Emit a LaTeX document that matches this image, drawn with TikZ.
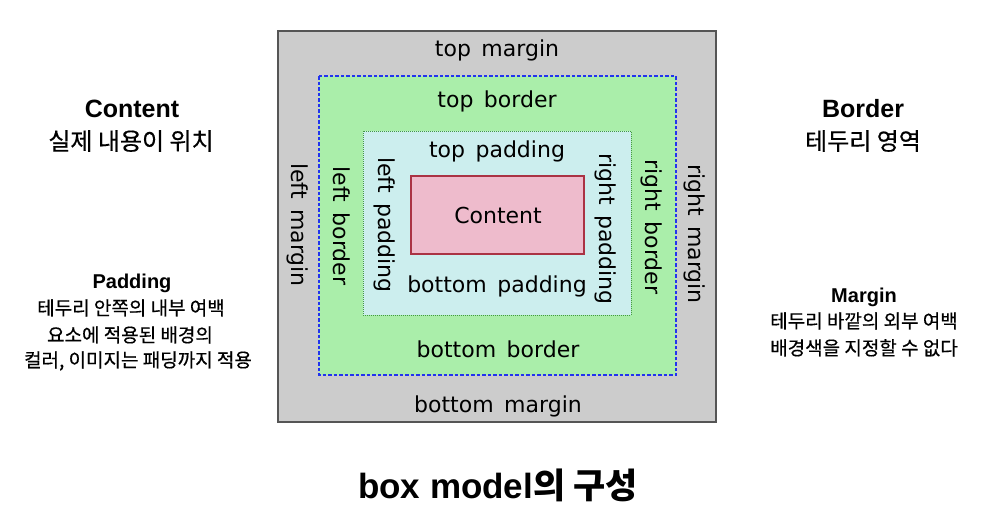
\documentclass[tikz,border=0pt]{standalone}
\usepackage{fontspec}
\setmainfont{Liberation Sans}
\newfontfamily\dejavu{DejaVu Sans}[WordSpace=1.5]
\newfontfamily\kr{Noto Sans CJK KR}
\newfontfamily\krm{Noto Sans CJK KR}[FakeBold=0.5]
\definecolor{margingray}{HTML}{CCCCCC}
\definecolor{marginline}{HTML}{555555}
\definecolor{bordergreen}{HTML}{AAEEAA}
\definecolor{borderblue}{HTML}{2233EE}
\definecolor{padcyan}{HTML}{CCEEEE}
\definecolor{padline}{HTML}{449944}
\definecolor{contpink}{HTML}{EEBBCC}
\definecolor{contline}{HTML}{AA3344}
\tikzset{
  boxlab/.style={font=\dejavu\fontsize{22}{22}\selectfont, inner sep=0pt, anchor=base},
  sidelab/.style={font=\dejavu\fontsize{22}{22}\selectfont, inner sep=0pt, anchor=center, rotate=-90},
  headlat/.style={font=\bfseries\fontsize{25}{25}\selectfont, inner sep=0pt, anchor=base},
  headkr/.style={font=\krm\fontsize{24}{24}\selectfont, inner sep=0pt, anchor=base},
  sublat/.style={font=\bfseries\fontsize{20}{20}\selectfont, inner sep=0pt, anchor=base},
  subkr/.style={font=\krm\fontsize{19}{19}\selectfont, inner sep=0pt, anchor=base},
}
\begin{document}
\begin{tikzpicture}[x=1pt,y=-1pt]
\useasboundingbox (0,0) rectangle (993,527);
% boxes
\path[draw=marginline, fill=margingray, line width=1.5pt] (278,31) rectangle (716,422);
\path[draw=borderblue, fill=bordergreen, line width=1.3pt, dash pattern=on 3.5pt off 2pt] (319,76) rectangle (676,375);
\path[draw=padline, fill=padcyan, line width=0.9pt, dash pattern=on 1pt off 1pt] (363,131) rectangle (631,315);
\path[draw=contline, fill=contpink, line width=1.2pt] (411,176) rectangle (584,254);
% horizontal labels
\node[boxlab] (tm) at (497,57) {top margin};
\node[boxlab] (tb) at (497,107) {top border};
\node[boxlab] (tp) at (497,157) {top padding};
\node[boxlab] (ct) at (498,223) {Content};
\node[boxlab] (bp) at (497,292) {bottom padding};
\node[boxlab] (bb) at (498,357) {bottom border};
\node[boxlab] (bm) at (498,412) {bottom margin};
% rotated labels
\node[sidelab] (lm) at (298,225) {left margin};
\node[sidelab] (lb) at (342,226) {left border};
\node[sidelab] (lp) at (385,225) {left padding};
\node[sidelab] (rp) at (606,229) {right padding};
\node[sidelab] (rb) at (652,227) {right border};
\node[sidelab] (rm) at (695,234) {right margin};
% left notes
\node[headlat] (hc) at (132,117) {Content};
\node[headkr] (hck) at (131,150) {실제 내용이 위치};
\node[sublat] (hp) at (132,288) {Padding};
\node[subkr] (hp1) at (131,315) {테두리 안쪽의 내부 여백};
\node[subkr] (hp2) at (130,342) {요소에 적용된 배경의};
\node[subkr] (hp3) at (138,367) {컬러, 이미지는 패딩까지 적용};
% right notes
\node[headlat] (hb) at (863,117) {Border};
\node[headkr] (hbk) at (863,150) {테두리 영역};
\node[sublat] (hm) at (864,302) {Margin};
\node[subkr] (hm1) at (864,328) {테두리 바깥의 외부 여백};
\node[subkr] (hm2) at (864,355) {배경색을 지정할 수 없다};
% title
\node[inner sep=0pt, anchor=base, font=\bfseries\fontsize{35}{35}\selectfont] (title) at (498,498) {box model{\kr\bfseries 의 구성}};
\end{tikzpicture}
\end{document}
